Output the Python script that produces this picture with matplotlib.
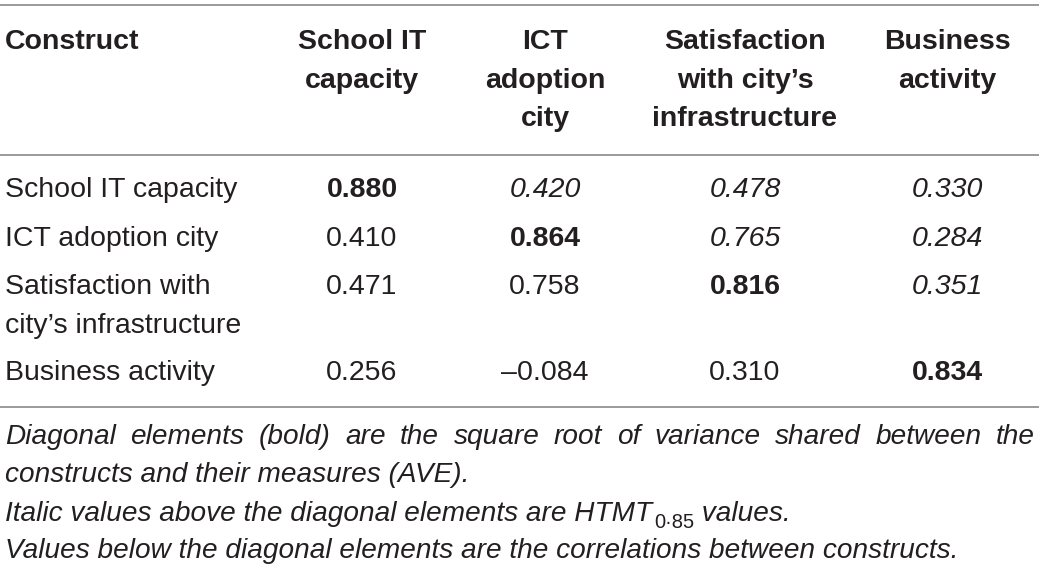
import matplotlib
matplotlib.use("Agg")
import matplotlib.pyplot as plt

W, H = 1039, 569

header_first = "Construct"
col_headers = [
    "School IT\ncapacity",
    "ICT\nadoption\ncity",
    "Satisfaction\nwith city\u2019s\ninfrastructure",
    "Business\nactivity",
]
row_labels = [
    "School IT capacity",
    "ICT adoption city",
    "Satisfaction with\ncity\u2019s infrastructure",
    "Business activity",
]
values = [
    ["0.880", "0.420", "0.478", "0.330"],
    ["0.410", "0.864", "0.765", "0.284"],
    ["0.471", "0.758", "0.816", "0.351"],
    ["0.256", "\u20130.084", "0.310", "0.834"],
]
notes = [
    "Diagonal elements (bold) are the square root of variance shared between the",
    "constructs and their measures (AVE).",
    ["Italic values above the diagonal elements are HTMT", "0\u00b785", " values."],
    "Values below the diagonal elements are the correlations between constructs.",
]

TXT = "#231f20"
RULE = "#9a9a9a"
FS = 20.5
NFS = 20.2
BODY = ["Liberation Sans", "DejaVu Sans"]
note_kw = dict(fontsize=NFS, family=BODY, style="italic",
               color=TXT, va="center")

fig = plt.figure(figsize=(W / 100, H / 100), dpi=100)
ax = fig.add_axes([0, 0, 1, 1])
ax.set_xlim(0, W)
ax.set_ylim(H, 0)
ax.axis("off")

# horizontal rules
for y in (5, 155, 407):
    ax.plot([0, W], [y, y], color=RULE, lw=1.4, solid_capstyle="butt")

col_x = [362, 545, 745, 947]
row_y = [190, 239, 287, 373]
line_h = 38.5

# header
ax.text(5, 42, header_first, fontsize=FS, fontweight="bold", family=BODY,
        color=TXT, ha="left", va="center")
for cx, lab in zip(col_x, col_headers):
    for k, part in enumerate(lab.split("\n")):
        ax.text(cx, 42 + k * line_h, part, fontsize=FS, fontweight="bold",
                family=BODY, color=TXT, ha="center", va="center")

# body: bold diagonal, italic above it, plain below
for i, (lab, ry) in enumerate(zip(row_labels, row_y)):
    for k, part in enumerate(lab.split("\n")):
        ax.text(5, ry + k * line_h, part, fontsize=FS, family=BODY,
                color=TXT, ha="left", va="center")
    for j, (cx, v) in enumerate(zip(col_x, values[i])):
        if i == j:
            style, weight = "normal", "bold"
        elif j > i:
            style, weight = "italic", "normal"
        else:
            style, weight = "normal", "normal"
        ax.text(cx, ry, v, fontsize=FS, family=BODY, fontstyle=style,
                fontweight=weight, color=TXT, ha="center", va="center")

# footnotes
note_y = [437, 475, 514, 551]
fig.canvas.draw()
renderer = fig.canvas.get_renderer()

# first line is justified to the full width
words = notes[0].split(" ")
arts = [ax.text(0, note_y[0], w, ha="left", **note_kw) for w in words]
widths = [a.get_window_extent(renderer).width for a in arts]
gap = (W - 5 - 4 - sum(widths)) / (len(words) - 1)
x = 5
for a, wd in zip(arts, widths):
    a.set_x(x)
    x += wd + gap

ax.text(5, note_y[1], notes[1], ha="left", **note_kw)

# line with the HTMT subscript
pre, sub, post = notes[2]
t1 = ax.text(5, note_y[2], pre, ha="left", **note_kw)
x = 5 + t1.get_window_extent(renderer).width
sub_kw = dict(note_kw, fontsize=NFS * 0.72, style="normal")
t2 = ax.text(x + 2, note_y[2] + 8, sub, ha="left", **sub_kw)
x += 2 + t2.get_window_extent(renderer).width
ax.text(x, note_y[2], post, ha="left", **note_kw)

ax.text(5, note_y[3], notes[3], ha="left", **note_kw)

fig.savefig("out.png", dpi=100)
